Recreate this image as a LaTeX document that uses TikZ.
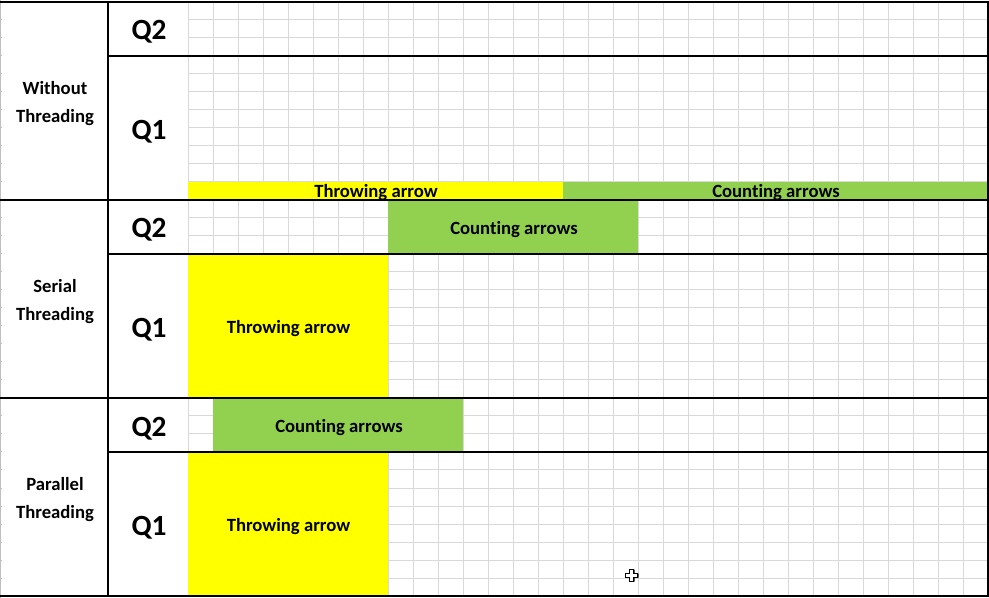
\documentclass[tikz,border=0pt]{standalone}
\usepackage{fontspec}
\setmainfont{Carlito}[Ligatures=NoCommon]
\definecolor{gridgray}{HTML}{D9D9D9}
\definecolor{edgegray}{HTML}{C0C0C0}
\definecolor{cellyellow}{HTML}{FFFF00}
\definecolor{cellgreen}{HTML}{92D050}
\begin{document}
\begin{tikzpicture}[x=0.75pt,y=-0.75pt,
  gridline/.style={draw=gridgray,line width=0.75pt},
  rule/.style={draw=black,line width=1.6pt},
  cell/.style 2 args={minimum width=#1*0.75pt,minimum height=#2*0.75pt,
    inner sep=0pt,outer sep=0pt,draw=none},
  rowlab/.style={align=center,inner sep=0pt,
    font=\fontsize{14}{21}\selectfont\bfseries},
  qlab/.style={anchor=base,inner sep=0pt,font=\fontsize{22}{26}\selectfont\bfseries},
  bartext/.style={anchor=base,inner sep=0pt,font=\fontsize{14}{17}\selectfont\bfseries}]
\useasboundingbox (0,0) rectangle (989,598);
\fill[white] (0,0) rectangle (989,598);

% sheet grid: 25 px columns, 18 px rows
\foreach \c in {0,...,32}
  \draw[gridline] ({188+25*\c},2) -- ({188+25*\c},596);
\foreach \r in {0,...,33}
  \draw[gridline] (188,{2+18*\r}) -- (988,{2+18*\r});

% edge of the neighbouring column on the left
\draw[draw=edgegray,line width=1.2pt] (0.6,0) -- (0.6,598);
\foreach \r in {1,...,32}
  \draw[draw=edgegray,line width=0.75pt] (0,{2+18*\r}) -- (2,{2+18*\r});

% filled cells
\node[cell={375}{18},fill=cellyellow] (wtthrowbar) at (375.5,191) {};
\node[cell={425}{18},fill=cellgreen]  (wtcountbar) at (775.5,191) {};
\node[cell={250}{54},fill=cellgreen]  (stcountbar) at (513,227) {};
\node[cell={200}{144},fill=cellyellow] (stthrowbar) at (288,326) {};
\node[cell={250}{54},fill=cellgreen]  (ptcountbar) at (338,425) {};
\node[cell={200}{144},fill=cellyellow] (ptthrowbar) at (288,524) {};

% bar texts
\node[bartext] (wtthrow) at (376,198) {Throwing arrow};
\node[bartext] (wtcount) at (776,198) {Counting arrows};
\node[bartext] (stcount) at (514,234.5) {Counting arrows};
\node[bartext] (stthrow) at (288.5,333.5) {Throwing arrow};
\node[bartext] (ptcount) at (339,432.5) {Counting arrows};
\node[bartext] (ptthrow) at (288.5,531.5) {Throwing arrow};

% row labels
\node[rowlab] (wtlab) at (55,103.5) {Without\\Threading};
\node[rowlab] (stlab) at (55,301.5) {Serial\\Threading};
\node[rowlab] (ptlab) at (55,499.5) {Parallel\\Threading};

% queue labels
\node[qlab] (wtq2) at (149,40) {Q2};
\node[qlab] (wtq1) at (149,139.5) {Q1};
\node[qlab] (stq2) at (149,238) {Q2};
\node[qlab] (stq1) at (149,337.5) {Q1};
\node[qlab] (ptq2) at (149,436) {Q2};
\node[qlab] (ptq1) at (149,535.5) {Q1};

% heavy borders
\draw[rule] (0,2) -- (988,2);
\draw[rule] (108,56) -- (988,56);
\draw[rule] (0,200) -- (988,200);
\draw[rule] (108,254) -- (988,254);
\draw[rule] (0,398) -- (988,398);
\draw[rule] (108,452) -- (988,452);
\draw[rule] (0,596) -- (988,596);
\draw[rule] (108,1.2) -- (108,596.8);
\draw[rule] (988,1.2) -- (988,596.8);

% mouse pointer
\coordinate (cur) at (632,576);
\begin{scope}[shift={(cur)}]
  \fill[black] (-1.5,-6.5) -- (2.5,-6.5) -- (2.5,-2.5) -- (6.5,-2.5) -- (6.5,1.5)
    -- (2.5,1.5) -- (2.5,5.5) -- (-1.5,5.5) -- (-1.5,1.5) -- (-5.5,1.5)
    -- (-5.5,-2.5) -- (-1.5,-2.5) -- cycle;
  \filldraw[fill=white,draw=black,line width=0.75pt]
    (-2.5,-7) -- (1.5,-7) -- (1.5,-3) -- (5.5,-3) -- (5.5,1) -- (1.5,1)
    -- (1.5,5) -- (-2.5,5) -- (-2.5,1) -- (-6.5,1) -- (-6.5,-3) -- (-2.5,-3) -- cycle;
\end{scope}
\end{tikzpicture}
\end{document}
